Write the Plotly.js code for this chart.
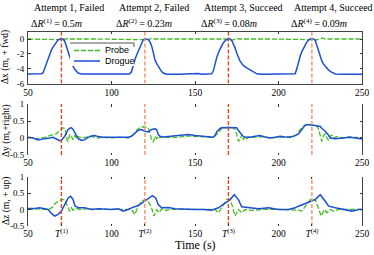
<!DOCTYPE html>
<html>
<head>
<meta charset="utf-8">
<script src="https://cdn.plot.ly/plotly-3.0.1.min.js"></script>
<style>html,body{margin:0;padding:0;background:#fff;}#chart{width:374px;height:255px;}</style>
</head>
<body>
<div id="chart"></div>
<script>
// ---- Data ----
const attemptTimes = [70, 120, 170, 220];
const attemptLabels = ["Attempt 1, Failed", "Attempt 2, Failed", "Attempt 3, Succeed", "Attempt 4, Succeed"];
const deltaRNames = ["(1)", "(2)", "(3)", "(4)"];
const deltaRValues = [0.5, 0.23, 0.08, 0.09];
const seriesNames = ["Probe", "Drogue"];
const xTickVals = [50, 100, 150, 200, 250];
const xTickValsBottom = [50, 70, 100, 120, 150, 170, 200, 220, 250];
const xTickTextBottom = ["50", "<i>T</i><sup>(1)</sup>", "100", "<i>T</i><sup>(2)</sup>", "150", "<i>T</i><sup>(3)</sup>", "200", "<i>T</i><sup>(4)</sup>", "250"];

// Δx, drogue
const tDxDrogue = [50,55,58,59,60,61,62,63,64,65,66,67,68,69,70,71,72,73,74,75,76,77,78,79,80,82,90,100,105,110,111,112,113,114,115,116,117,118,119,120,121,122,123,124,125,126,127,128,129,130,131,133,140,150,152,154,160,161,162,163,164,165,166,167,168,169,170,171,172,173,174,175,176,177,178,179,181,183,185,187,190,200,209,210,211,212,213,214,215,216,217,218,219,220,221,222,223,224,225,226,227,228,229,230,232,234,240,250];
const dxDrogue = [-4.72,-4.72,-4.7,-4.6,-4.0,-3.2,-2.7,-2.1,-1.5,-1.1,-0.7,-0.35,-0.1,0.0,0.02,0.0,-0.3,-0.9,-1.7,-2.4,-3.1,-3.7,-4.1,-4.4,-4.6,-4.72,-4.75,-4.75,-4.73,-4.72,-4.7,-4.4,-3.5,-2.8,-2.2,-1.7,-1.1,-0.5,-0.1,0.0,0.02,-0.05,-0.4,-0.9,-1.8,-2.8,-3.3,-3.7,-4.1,-4.4,-4.6,-4.75,-4.78,-4.75,-4.65,-4.75,-4.7,-4.3,-3.3,-2.5,-1.9,-1.3,-0.9,-0.5,-0.2,-0.02,0.02,0.0,-0.2,-0.6,-1.2,-1.9,-2.5,-3.0,-3.3,-3.6,-3.9,-4.2,-4.5,-4.7,-4.75,-4.75,-4.75,-4.7,-4.0,-3.0,-2.3,-1.7,-1.2,-0.8,-0.4,-0.15,0.0,0.02,0.0,-0.2,-0.9,-1.7,-2.4,-3.0,-3.4,-3.7,-4.0,-4.2,-4.5,-4.72,-4.75,-4.75];
// Δx, probe
const tDxProbe = [50,60,68,69,71,73,75,90,105,118,120,122,124,126,140,155,168,170,173,175,177,195,218,220,223,226,228,240,250];
const dxProbe = [0,0.0,0,-0.05,-0.1,0.05,0,0.0,0.0,0,-0.1,-0.1,0.1,0,0.0,0.0,0,-0.15,-0.1,0.05,0,0.0,0,-0.1,-0.1,0.15,0,0.0,0];

// Δy, drogue
const tDyDrogue = [50,53,56,58,60,63,65,67,69,70,71,72,73,74,75,76,77,78,79,80,82,84,86,88,90,92,95,100,105,110,112,114,116,118,120,122,123,124,126,127,128,129,131,135,140,146,150,155,158,161,162,163,165,166,170,173,175,176,177,178,179,181,183,186,189,192,195,198,201,204,207,210,212,214,216,218,221,224,225,226,228,230,231,234,237,240,243,246,249,250];
const dyDrogue = [0.02,0.0,-0.06,-0.05,-0.02,0.0,0.02,-0.03,-0.08,-0.07,-0.02,0.05,0.15,0.25,0.29,0.3,0.25,0.15,0.05,-0.02,-0.07,-0.05,0.02,0.06,0.07,0.04,0.02,0.02,0.0,0.02,0.05,0.15,0.23,0.25,0.2,0.18,0.22,0.25,0.27,0.25,0.1,0.05,0.03,0.05,0.07,0.1,0.07,0.05,0.03,0.02,0.08,0.18,0.28,0.3,0.31,0.3,0.3,0.22,0.15,0.08,0.04,0.02,0.02,0.05,0.07,0.03,0.0,0.02,0.05,0.03,0.02,0.07,0.12,0.25,0.38,0.4,0.38,0.36,0.34,0.28,0.2,0.08,0.0,-0.02,0.0,0.02,0.02,0.0,-0.03,-0.03];
// Δy, probe
const tDyProbe = [50,53,55,57,60,62,64,66,67,68,69,70,71,72,73,73.5,74,75,76,77,78,79,80,82,85,88,92,95,100,105,110,113,115,117,119,120,122,123,124,125,126,127,128,129,130,132,136,140,145,150,155,160,162,164,166,168,170,173,174,175,176,177,178,179,180,181,182,185,190,195,200,205,209,211,213,215,217,220,223,224,225,226,227,228,229,230,231,232,233,235,238,242,246,250];
const dyProbe = [0.0,0.02,-0.03,0.0,0.02,0.05,0.1,0.12,0.13,0.18,0.22,0.25,0.3,0.28,0.12,-0.08,-0.1,0.1,0.05,-0.05,0.08,-0.03,0.04,0.0,0.02,0.05,0.0,0.02,0.0,0.02,0.0,0.1,0.22,0.3,0.33,0.32,0.3,0.15,-0.05,-0.12,0.05,-0.02,0.05,0.0,0.04,0.02,0.03,0.02,0.06,0.05,0.03,0.02,0.06,0.15,0.28,0.3,0.32,0.3,0.25,0.1,-0.1,-0.05,0.1,-0.05,0.05,-0.02,0.03,0.02,0.04,0.0,0.02,0.02,0.05,0.1,0.25,0.35,0.4,0.38,0.36,0.25,0.05,-0.1,0.08,0.12,0.0,-0.07,0.05,0.08,0.0,0.04,0.0,0.03,0.02,0.0];

// Δz, drogue
const tDzDrogue = [50,52,54,57,60,62,64,66,68,70,72,74,75.6,77,78,80,84,88,92,96,100,104,107,110,112,116,120,123,124.5,126.5,128,130,134,138,145,150,155,160,164,168,171,173.5,176,178,182,188,194,200,206,210,212,215,218,222,225,228,230,234,240,244,248,250];
const dzDrogue = [0.03,0.02,0.03,0.05,0.02,0.0,-0.12,-0.2,-0.15,-0.05,0.15,0.35,0.4,0.3,0.12,0.05,0.05,0.0,0.02,0.0,0.0,0.02,-0.05,0.0,0.05,0.12,0.25,0.35,0.42,0.35,0.15,0.05,0.06,0.02,0.0,0.0,0.0,-0.02,0.05,0.2,0.3,0.45,0.3,0.08,0.05,0.02,0.05,0.0,0.0,0.05,0.1,0.15,0.22,0.3,0.45,0.25,0.1,0.05,0.0,-0.05,0.0,0.0];
// Δz, probe
const tDzProbe = [50,55,60,63,65,66,68,70,72,73,73.6,75,76,77,79,81,85,90,100,105,110,112,114,116,118,120,122,124,125.4,127,128.4,130,132,135,145,155,160,162,164,167,169,171,172.4,174,176,178,180,184,190,200,208,212,214,216,219,222,223.6,225.6,227.6,229,231,233,236,245,250];
const dzProbe = [0.0,0.02,0.0,0.02,0.08,0.17,0.25,0.3,0.3,0.2,0.1,-0.05,0.05,-0.02,0.03,0.0,0.02,0.0,0.0,0.02,0.0,0.0,-0.15,0.1,0.25,0.3,0.25,0.05,-0.2,0.0,-0.1,0.02,-0.03,0.0,0.0,0.0,0.0,0.0,-0.1,0.15,0.3,0.3,0.1,-0.2,0.0,-0.1,0.0,-0.03,0.0,0.0,0.0,-0.02,-0.05,0.1,0.3,0.3,0.1,-0.2,0.0,-0.1,0.0,-0.05,0.0,0.0,0.0];

const panelRanges = [[-6, 1], [-0.5, 1], [-0.5, 1]];
const panelTicks = [[-6, -4, -2, 0], [-0.5, 0, 0.5, 1], [-0.5, 0, 0.5, 1]];

// ---- Styles ----
const serif = "Liberation Serif, Times New Roman, serif";
const sans = "Liberation Sans, Arial, sans-serif";
const green = "#3fbf1f";
const blue = "#1d4fd6";
const redDark = "#e4471f";
const redLight = "#f29068";

const traces = [];
const axSuffix = ["", "2", "3"];
const probeSets = [[tDxProbe, dxProbe], [tDyProbe, dyProbe], [tDzProbe, dzProbe]];
const drogueSets = [[tDxDrogue, dxDrogue], [tDyDrogue, dyDrogue], [tDzDrogue, dzDrogue]];
const probeLine = {color: green, width: 1.3, dash: "5px,2px"};
const drogueLine = {color: blue, width: 1.5};

for (let p = 0; p < 3; p++) {
  const xa = "x" + axSuffix[p], ya = "y" + axSuffix[p];
  traces.push({x: probeSets[p][0], y: probeSets[p][1], xaxis: xa, yaxis: ya, type: "scatter", mode: "lines",
    name: seriesNames[0], showlegend: false, line: probeLine});
  traces.push({x: drogueSets[p][0], y: drogueSets[p][1], xaxis: xa, yaxis: ya, type: "scatter", mode: "lines",
    name: seriesNames[1], showlegend: false, line: drogueLine});
  attemptTimes.forEach((t, i) => {
    traces.push({x: [t, t], y: panelRanges[p], xaxis: xa, yaxis: ya, type: "scatter", mode: "lines",
      showlegend: false, hoverinfo: "skip",
      line: {color: i % 2 === 0 ? redDark : redLight, width: 1.4, dash: "4px,2px"}});
  });
}

function pxY(py) { return 1 - py / 255; }
function pxX(px) { return (px - 28) / 334; }
const domains = [[pxY(83.5), pxY(31.5)], [pxY(155), pxY(104)], [pxY(226), pxY(176.5)]];
const tickFont = {family: serif, size: 9.5, color: "#000"};

const layout = {
  width: 374, height: 255,
  margin: {l: 28, r: 12, t: 0, b: 0},
  paper_bgcolor: "#fff", plot_bgcolor: "#fff",
  showlegend: false,
  annotations: [],
  shapes: [],
};

for (let p = 0; p < 3; p++) {
  const s = axSuffix[p];
  const bottom = p === 2;
  layout["xaxis" + s] = {
    domain: [0, 1], anchor: "y" + s, range: [50, 250], automargin: false,
    tickmode: "array", tickvals: bottom ? xTickValsBottom : xTickVals,
    ticktext: bottom ? xTickTextBottom : xTickVals.map(String),
    ticks: "inside", ticklen: 2.5, tickcolor: "#333", tickwidth: 1,
    showline: p === 0, linecolor: "#444", linewidth: 1, mirror: "ticks",
    showgrid: false, zeroline: false, tickfont: tickFont
  };
  const yr = panelRanges[p];
  const pad = (yr[1] - yr[0]) * 0.002;
  layout["yaxis" + s] = {
    domain: domains[p], anchor: "x" + s, range: [yr[0] - pad, yr[1] + pad], automargin: false,
    tickmode: "array", tickvals: panelTicks[p], ticktext: panelTicks[p].map(v => String(v)),
    ticks: "inside", ticklen: 2.5, tickcolor: "#333", tickwidth: 1,
    showline: true, linecolor: "#444", linewidth: 1, mirror: "ticks",
    showgrid: false, zeroline: false, tickfont: {family: serif, size: 9, color: "#000"}, ticklabelstandoff: 1
  };
}

// legend box (drawn over the curves like the reference)
layout.shapes.push({type: "rect", xref: "paper", yref: "paper", x0: pxX(70), x1: pxX(134), y0: pxY(66), y1: pxY(43),
  fillcolor: "#fff", line: {width: 0}, layer: "above"});
layout.shapes.push({type: "line", xref: "paper", yref: "paper", x0: pxX(70), x1: pxX(134), y0: pxY(43), y1: pxY(43),
  line: {color: "#555", width: 1}, layer: "above"});
layout.shapes.push({type: "line", xref: "paper", yref: "paper", x0: pxX(134), x1: pxX(134), y0: pxY(43), y1: pxY(47),
  line: {color: "#555", width: 1}, layer: "above"});
const legendRows = [50.5, 61];
[probeLine, drogueLine].forEach((ln, i) => {
  layout.shapes.push({type: "line", xref: "paper", yref: "paper", x0: pxX(74), x1: pxX(100),
    y0: pxY(legendRows[i]), y1: pxY(legendRows[i]), line: ln, layer: "above"});
  layout.annotations.push({text: seriesNames[i], xref: "paper", yref: "paper", x: pxX(103), y: pxY(legendRows[i]),
    xanchor: "left", yanchor: "middle", showarrow: false, font: {family: sans, size: 9, color: "#000"}});
});

const attemptX = [32, 117, 202, 292];
attemptLabels.forEach((txt, i) => {
  layout.annotations.push({text: txt, xref: "paper", yref: "paper",
    x: pxX(attemptX[i]), y: pxY(7), xanchor: "left", yanchor: "middle",
    showarrow: false, font: {family: serif, size: 10, color: "#000"}});
  layout.annotations.push({text: "Δ<i>R</i><sup>" + deltaRNames[i] + "</sup> = " + deltaRValues[i] + "<i>m</i>",
    xref: "paper", yref: "paper",
    x: pxX(attemptX[i] - 3), y: pxY(23), xanchor: "left", yanchor: "middle",
    showarrow: false, font: {family: serif, size: 10, color: "#000"}});
});
const yTitles = ["Δx (m, + fwd)", "Δy (m,+right)", "Δz (m, + up)"];
const yTitleCenters = [57, 130, 201];
yTitles.forEach((txt, i) => {
  layout.annotations.push({text: txt, xref: "paper", yref: "paper", x: pxX(6), y: pxY(yTitleCenters[i]),
    xanchor: "center", yanchor: "middle", textangle: -90, showarrow: false,
    font: {family: serif, size: 9.5, color: "#000"}});
});
layout.annotations.push({text: "Time (s)", xref: "paper", yref: "paper", x: pxX(195), y: pxY(245),
  xanchor: "center", yanchor: "middle", showarrow: false, font: {family: serif, size: 12, color: "#000"}});

Plotly.newPlot("chart", traces, layout, {displayModeBar: false, staticPlot: true});
</script>
</body>
</html>
